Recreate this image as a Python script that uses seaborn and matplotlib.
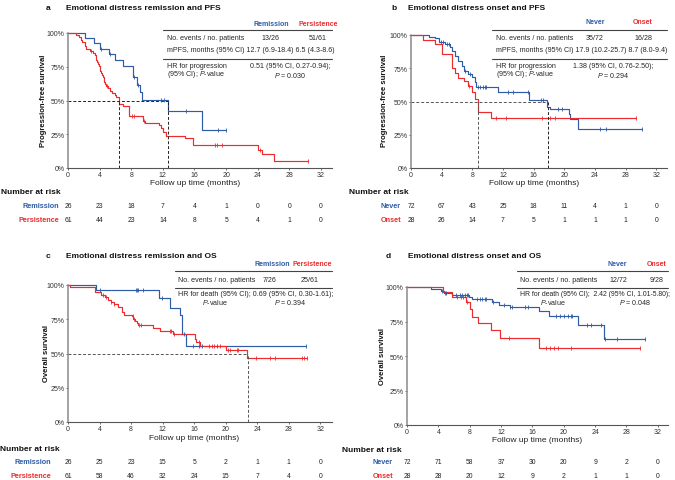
import numpy as np
import pandas as pd
import matplotlib
matplotlib.use("Agg")
import matplotlib.pyplot as plt
import matplotlib.transforms as mtrans
import seaborn as sns

sns.set_theme(style="white")
plt.rcParams['font.family'] = ['Liberation Sans', 'DejaVu Sans']
plt.rcParams['mathtext.fontset'] = 'custom'
plt.rcParams['mathtext.rm'] = 'Liberation Sans'
plt.rcParams['mathtext.it'] = 'Liberation Sans:italic'

BLUE = '#2e5ca6'
RED = '#ee2b2e'

# ---------------- data ----------------
# Panel a: PFS, remission vs persistence
a_rem_t = [2.2, 3.3, 4.1, 5.2, 5.9, 7.0, 8.2, 8.7, 9.1, 9.4, 12.7, 16.9]
a_rem_s = [0.962, 0.923, 0.885, 0.843, 0.800, 0.754, 0.673, 0.617, 0.561, 0.505, 0.421, 0.281]
a_rem_c = [4.2, 5.3, 8.4, 8.8, 11.8, 12.1, 14.9, 19.0, 20.0]
a_per_t = [1.0, 1.4, 1.6, 1.8, 2.1, 2.2, 2.3, 2.8, 3.2, 3.4, 3.5, 3.6, 3.7, 3.8, 3.9, 4.0,
           4.1, 4.2, 4.3, 4.4, 4.5, 4.6, 4.7, 4.8, 5.0, 5.3, 5.6, 5.9, 6.1, 6.4, 6.5, 6.9,
           7.7, 9.5, 9.8, 11.5, 11.8, 12.0, 12.4, 14.8, 15.8, 24.0, 24.5, 26.1]
a_per_s = [0.984, 0.967, 0.951, 0.934, 0.918, 0.902, 0.885, 0.869, 0.852, 0.836, 0.820, 0.803,
           0.787, 0.770, 0.754, 0.738, 0.721, 0.705, 0.689, 0.672, 0.656, 0.639, 0.623, 0.607,
           0.590, 0.574, 0.557, 0.541, 0.525, 0.508, 0.475, 0.458, 0.385, 0.351, 0.334, 0.317,
           0.300, 0.267, 0.235, 0.220, 0.168, 0.131, 0.105, 0.050]
a_per_c = [2.9, 4.9, 8.1, 8.3, 9.6, 18.6, 18.8, 19.5, 24.3, 30.4]
a_medians = [6.5, 12.7]
a_risk_rem = [26, 23, 18, 7, 4, 1, 0, 0, 0]
a_risk_per = [61, 44, 23, 14, 8, 5, 4, 1, 0]

# Panel b: PFS, never vs onset
b_nev_t = [2.4, 3.1, 3.7, 4.4, 5.05, 5.3, 5.7, 6.1, 6.6, 6.9, 7.4, 8.0, 8.3, 8.5,
           11.4, 15.4, 17.8, 18.1, 20.6, 20.8, 21.8]
b_nev_s = [0.986, 0.975, 0.950, 0.932, 0.907, 0.880, 0.844, 0.807, 0.769, 0.732, 0.707,
           0.682, 0.644, 0.612, 0.569, 0.511, 0.456, 0.444, 0.406, 0.368, 0.293]
b_nev_c = [3.96, 4.2, 4.75, 4.92, 7.1, 7.7, 8.75, 8.97, 9.4, 9.7, 9.84, 12.7, 13.3, 15.2,
           17.0, 17.2, 19.2, 19.7, 24.6, 25.4, 30.2]
b_ons_t = [1.6, 3.1, 4.0, 5.3, 5.7, 6.1, 6.9, 7.5, 7.9, 8.3, 8.7, 10.4]
b_ons_s = [0.964, 0.929, 0.857, 0.750, 0.714, 0.679, 0.655, 0.619, 0.571, 0.520, 0.420, 0.375]
b_ons_c = [7.6, 11.1, 12.4, 17.1, 18.2, 18.8, 29.4]
b_medians = [8.7, 17.9]
b_risk_nev = [72, 67, 43, 25, 18, 11, 4, 1, 0]
b_risk_ons = [28, 26, 14, 7, 5, 1, 1, 1, 0]

# Panel c: OS, remission vs persistence
c_rem_t = [3.6, 11.6, 12.9, 14.2, 14.5, 15.0]
c_rem_s = [0.962, 0.907, 0.835, 0.779, 0.640, 0.555]
c_rem_c = [4.1, 8.6, 8.8, 8.9, 9.5, 11.9, 14.7, 15.8, 16.6, 17.0, 18.9, 30.2]
c_per_t = [0.2, 3.4, 4.2, 4.7, 5.1, 5.4, 5.9, 6.4, 6.8, 7.1, 8.1, 8.3, 8.5, 8.7, 8.9,
           10.8, 11.7, 13.3, 16.1, 16.3, 16.7, 20.1, 22.7]
c_per_s = [0.984, 0.951, 0.930, 0.910, 0.893, 0.874, 0.859, 0.837, 0.801, 0.782, 0.772,
           0.752, 0.735, 0.723, 0.709, 0.687, 0.667, 0.643, 0.607, 0.583, 0.558, 0.529, 0.466]
c_per_c = [4.4, 4.8, 5.5, 5.9, 8.2, 8.4, 9.0, 9.3, 12.9, 13.1, 13.4, 16.6, 17.9, 18.3, 18.5,
           19.3, 20.3, 20.6, 21.4, 21.6, 23.9, 25.6, 26.3, 29.7, 29.9, 30.3]
c_medians = [22.8]
c_risk_rem = [26, 25, 23, 15, 5, 2, 1, 1, 0]
c_risk_per = [61, 58, 46, 32, 24, 15, 7, 4, 0]

# Panel d: OS, never vs onset
d_nev_t = [3.0, 4.3, 4.7, 5.8, 7.9, 8.3, 10.8, 11.7, 13.1, 16.8, 18.1, 21.8, 25.1]
d_nev_s = [0.986, 0.972, 0.958, 0.944, 0.930, 0.915, 0.893, 0.873, 0.853, 0.823, 0.792,
           0.727, 0.623]
d_nev_c = [4.5, 4.8, 5.0, 6.2, 6.7, 7.0, 7.4, 7.6, 7.8, 8.9, 9.3, 9.6, 9.9, 10.1, 11.0,
           12.4, 13.2, 13.4, 15.0, 15.5, 19.0, 19.5, 20.0, 20.6, 20.9, 21.0, 23.0, 23.5,
           24.7, 25.3, 26.8, 30.4]
d_ons_t = [4.6, 5.8, 7.5, 8.0, 8.3, 9.0, 10.7, 11.9, 16.8]
d_ons_s = [0.964, 0.929, 0.893, 0.839, 0.786, 0.740, 0.686, 0.631, 0.558]
d_ons_c = [6.4, 6.9, 7.2, 7.7, 13.0, 17.7, 18.3, 18.8, 19.3, 20.9, 29.7]
d_risk_nev = [72, 71, 58, 37, 30, 20, 9, 2, 0]
d_risk_ons = [28, 28, 20, 12, 9, 2, 1, 1, 0]

risk_times = [0, 4, 8, 12, 16, 20, 24, 28, 32]

# ---------------- helpers ----------------
W, H = 675, 481
fig = plt.figure(figsize=(W / 100, H / 100), dpi=100)
fig.patch.set_facecolor('white')

TS = 5.1  # table text size


def FX(x):
    return x / W


def FY(y):
    return 1 - y / H


def T(x, y, s, ha='left', va='center', size=TS, **kw):
    fig.text(FX(x), FY(y), s, ha=ha, va=va, fontsize=size, **kw)


def add_ax(l, t, r, b):
    return fig.add_axes([FX(l), FY(b), (r - l) / W, (b - t) / H])


def draw_curve(ax, times, surv, cens, color):
    end = max(max(times), max(cens))
    x = [0.0] + list(times) + [end]
    y = [1.0] + list(surv) + [surv[-1]]
    df = pd.DataFrame({'t': x, 's': y})
    sns.lineplot(data=df, x='t', y='s', drawstyle='steps-post', estimator=None, sort=False,
                 color=color, lw=0.85, ax=ax, clip_on=False)
    tt = np.array(times)
    ss = np.array([1.0] + list(surv))
    lev = ss[np.searchsorted(tt, np.array(cens), side='right')]
    cdf = pd.DataFrame({'t': cens, 's': lev})
    sns.scatterplot(data=cdf, x='t', y='s', marker='|', s=9, color=color, linewidth=0.6,
                    ax=ax, clip_on=False, zorder=4)


def style_ax(ax, xmax):
    ax.set_xlim(0, xmax)
    ax.set_ylim(0, 1)
    ax.set_xticks(risk_times)
    ax.set_xticklabels([str(v) for v in risk_times])
    ax.set_yticks([0, 0.25, 0.5, 0.75, 1.0])
    ax.set_yticklabels(['0%', '25%', '50%', '75%', '100%'])
    ax.tick_params(axis='both', which='both', length=1.6, width=0.5, labelsize=5.0, pad=0.7,
                   colors='#333333', bottom=True, left=True)
    ax.set_xlabel('')
    ax.set_ylabel('')
    for sp in ['top', 'right']:
        ax.spines[sp].set_visible(False)
    ax.spines['left'].set_color('#8a8a8a')
    ax.spines['left'].set_linewidth(1.1)
    ax.spines['bottom'].set_color('#555555')
    ax.spines['bottom'].set_linewidth(0.8)
    ax.set_facecolor('none')


def risk_rows(ax, vals, ypix):
    tr = mtrans.blended_transform_factory(ax.transData, fig.transFigure)
    for t, v in zip(risk_times, vals):
        ax.text(t, FY(ypix), str(v), transform=tr, ha='center', va='center', fontsize=4.9,
                color='#222222', clip_on=False)


def hline(x0, x1, y):
    fig.add_artist(plt.Line2D([FX(x0), FX(x1)], [FY(y), FY(y)], color='#444444', lw=0.8,
                              transform=fig.transFigure))


TITLE_KW = dict(size=6.0, fontweight='bold', color='#111111')
LBL_KW = dict(size=5.5, fontweight='bold', color='#111111')
XL_KW = dict(size=6.0, color='#222222')
NR_KW = dict(size=6.0, fontweight='bold', color='#111111')
RL = 5.2

# ---------------- panel a ----------------
axa = add_ax(68, 34, 332, 169)
draw_curve(axa, a_rem_t, a_rem_s, a_rem_c, BLUE)
draw_curve(axa, a_per_t, a_per_s, a_per_c, RED)
axa.hlines(0.5, 0, max(a_medians), colors='#222222', linestyles=(0, (3, 2)), lw=0.7)
axa.vlines(a_medians, 0, 0.5, colors='#222222', linestyles=(0, (3, 2)), lw=0.7)
style_ax(axa, 33.4)
T(48, 9, 'a', ha='center', **TITLE_KW)
T(66, 9, 'Emotional distress remission and PFS', **TITLE_KW)
T(44, 101, 'Progression-free survival', ha='center', rotation=90, **LBL_KW)
T(195, 183.5, 'Follow up time (months)', ha='center', **XL_KW)
T(1, 193, 'Number at risk', **NR_KW)
T(59, 207, 'Remission', ha='right', size=RL, fontweight='bold', color=BLUE)
T(59, 220, 'Persistence', ha='right', size=RL, fontweight='bold', color=RED)
risk_rows(axa, a_risk_rem, 207)
risk_rows(axa, a_risk_per, 220)
T(271, 24, 'Remission', ha='center', size=5.0, fontweight='bold', color=BLUE)
T(318, 24, 'Persistence', ha='center', size=5.0, fontweight='bold', color=RED)
hline(163, 332, 31)
T(167, 38, 'No. events / no. patients')
T(271, 38, '13/26', ha='center')
T(318, 38, '51/61', ha='center')
T(167, 51, 'mPFS, months (95% CI) 12.7 (6.9-18.4) 6.5 (4.3-8.6)')
hline(163, 332, 60)
T(167, 67, 'HR for progression')
T(167, 75, '(95% CI); $\\mathit{P}$-value')
T(290, 67, '0.51 (95% CI, 0.27-0.94);', ha='center')
T(290, 75, '$\\mathit{P}$ = 0.030', ha='center')

# ---------------- panel b ----------------
axb = add_ax(411, 36, 667, 169)
draw_curve(axb, b_nev_t, b_nev_s, b_nev_c, BLUE)
draw_curve(axb, b_ons_t, b_ons_s, b_ons_c, RED)
axb.hlines(0.5, 0, max(b_medians), colors='#555555', linestyles=(0, (3, 2)), lw=0.7)
axb.vlines(b_medians, 0, 0.5, colors=['#555555', '#222222'], linestyles=(0, (3, 2)), lw=0.7)
style_ax(axb, 33.4)
T(394, 9, 'b', ha='center', **TITLE_KW)
T(408, 9, 'Emotional distress onset and PFS', **TITLE_KW)
T(384, 101, 'Progression-free survival', ha='center', rotation=90, **LBL_KW)
T(534, 183.5, 'Follow up time (months)', ha='center', **XL_KW)
T(349, 193, 'Number at risk', **NR_KW)
T(401, 207, 'Never', ha='right', size=RL, fontweight='bold', color=BLUE)
T(401, 220, 'Onset', ha='right', size=RL, fontweight='bold', color=RED)
risk_rows(axb, b_risk_nev, 207)
risk_rows(axb, b_risk_ons, 220)
T(595, 22, 'Never', ha='center', size=5.0, fontweight='bold', color=BLUE)
T(643, 22, 'Onset', ha='center', size=5.0, fontweight='bold', color=RED)
hline(492, 667, 31)
T(496, 38, 'No. events / no. patients')
T(595, 38, '35/72', ha='center')
T(643, 38, '16/28', ha='center')
T(496, 51, 'mPFS, months (95% CI) 17.9 (10.2-25.7) 8.7 (8.0-9.4)')
hline(492, 667, 60)
T(496, 67, 'HR for progression')
T(496, 75, '(95% CI); $\\mathit{P}$-value')
T(613, 67, '1.38 (95% CI, 0.76-2.50);', ha='center')
T(613, 75, '$\\mathit{P}$ = 0.294', ha='center')

# ---------------- panel c ----------------
axc = add_ax(68, 286, 332, 423)
draw_curve(axc, c_rem_t, c_rem_s, c_rem_c, BLUE)
draw_curve(axc, c_per_t, c_per_s, c_per_c, RED)
axc.hlines(0.5, 0, max(c_medians), colors='#555555', linestyles=(0, (3, 2)), lw=0.7)
axc.vlines(c_medians, 0, 0.5, colors='#555555', linestyles=(0, (3, 2)), lw=0.7)
style_ax(axc, 33.5)
T(48, 256, 'c', ha='center', **TITLE_KW)
T(66, 256, 'Emotional distress remission and OS', **TITLE_KW)
T(47, 354, 'Overall survival', ha='center', rotation=90, **LBL_KW)
T(194, 439, 'Follow up time (months)', ha='center', **XL_KW)
T(0, 449.5, 'Number at risk', **NR_KW)
T(51, 463, 'Remission', ha='right', size=RL, fontweight='bold', color=BLUE)
T(51, 477, 'Persistence', ha='right', size=RL, fontweight='bold', color=RED)
risk_rows(axc, c_risk_rem, 463)
risk_rows(axc, c_risk_per, 477)
T(272, 265, 'Remission', ha='center', size=5.0, fontweight='bold', color=BLUE)
T(312, 265, 'Persistence', ha='center', size=5.0, fontweight='bold', color=RED)
hline(175, 332, 272)
T(178, 280, 'No. events / no. patients')
T(270, 280, '7/26', ha='center')
T(310, 280, '25/61', ha='center')
hline(175, 332, 289)
T(178, 295, 'HR for death (95% CI); 0.69 (95% CI, 0.30-1.61);')
T(215, 303, '$\\mathit{P}$-value', ha='center')
T(290, 303, '$\\mathit{P}$ = 0.394', ha='center')

# ---------------- panel d ----------------
axd = add_ax(407, 288, 668, 426)
draw_curve(axd, d_nev_t, d_nev_s, d_nev_c, BLUE)
draw_curve(axd, d_ons_t, d_ons_s, d_ons_c, RED)
style_ax(axd, 33.3)
T(388, 256, 'd', ha='center', **TITLE_KW)
T(408, 256, 'Emotional distress onset and OS', **TITLE_KW)
T(383, 357, 'Overall survival', ha='center', rotation=90, **LBL_KW)
T(537, 441, 'Follow up time (months)', ha='center', **XL_KW)
T(342, 450, 'Number at risk', **NR_KW)
T(393, 463, 'Never', ha='right', size=RL, fontweight='bold', color=BLUE)
T(393, 477, 'Onset', ha='right', size=RL, fontweight='bold', color=RED)
risk_rows(axd, d_risk_nev, 463)
risk_rows(axd, d_risk_ons, 477)
T(617, 265, 'Never', ha='center', size=5.0, fontweight='bold', color=BLUE)
T(657, 265, 'Onset', ha='center', size=5.0, fontweight='bold', color=RED)
hline(517, 668, 272)
T(520, 280, 'No. events / no. patients')
T(618, 280, '12/72', ha='center')
T(657, 280, '9/28', ha='center')
hline(517, 668, 289)
T(520, 295, 'HR for death (95% CI);  2.42 (95% CI, 1.01-5.80);', size=4.95)
T(553, 303, '$\\mathit{P}$-value', ha='center')
T(635, 303, '$\\mathit{P}$ = 0.048', ha='center')

fig.savefig('out.png', dpi=100, facecolor='white')
